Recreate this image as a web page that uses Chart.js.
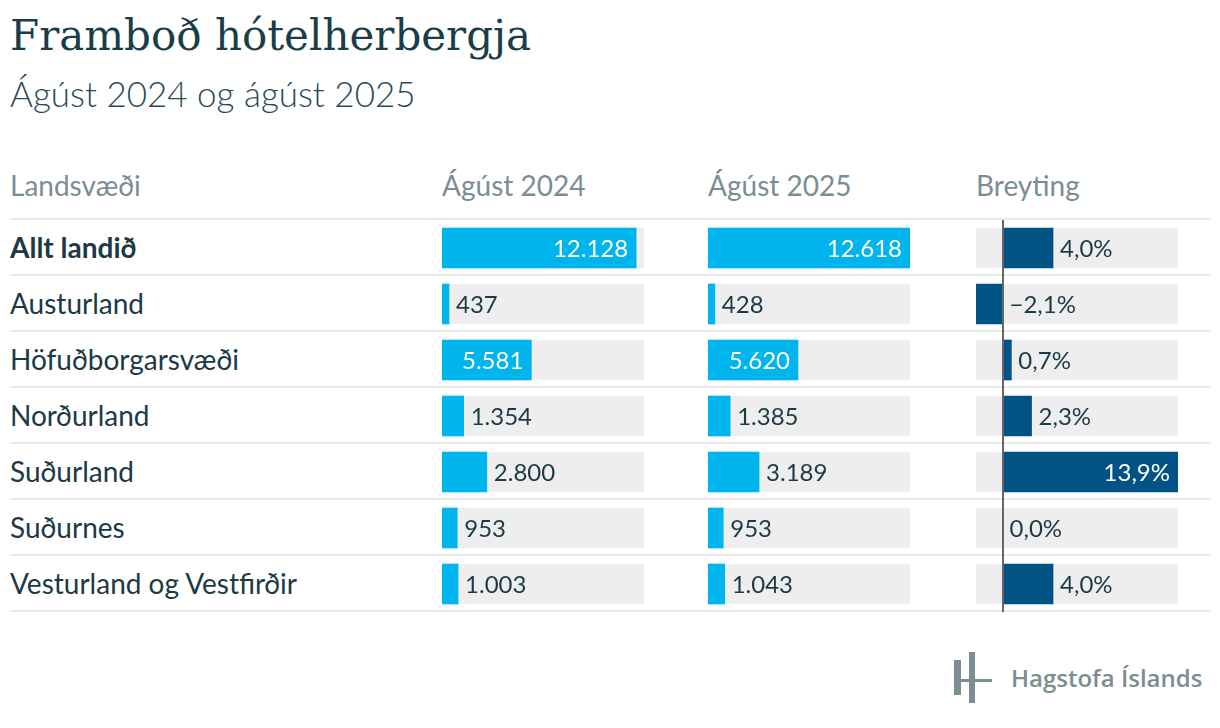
<!DOCTYPE html>
<html lang="is">
<head>
<meta charset="utf-8">
<script src="https://cdn.jsdelivr.net/npm/chart.js@4/dist/chart.umd.min.js"></script>
<style>
  html, body { margin: 0; padding: 0; background: #fff; }
  body { width: 1220px; height: 728px; position: relative; overflow: hidden; font-family: Lato, sans-serif; color: #1b3a45; }
  .abs { position: absolute; }
  #title { left: 10px; top: 11px; font-family: "DejaVu Serif", serif; font-size: 42px; color: #193e4a; white-space: nowrap; }
  #subtitle { left: 10px; top: 72px; font-size: 35px; font-weight: 300; color: #2a4a55; white-space: nowrap; }
  .head { top: 168px; font-size: 28px; color: #7b8d94; white-space: nowrap; }
  .rule { left: 10px; width: 1200px; height: 2px; background: #e9e9e9; }
  .name { left: 10px; height: 54px; display: flex; align-items: center; font-size: 28px; white-space: nowrap; }
  canvas { position: absolute; }
  #logoText { left: 1011px; top: 661px; font-family: "Open Sans", sans-serif; font-weight: 600; font-size: 24px; color: #7a8e94; white-space: nowrap; }
  .lg { background: #7a8e94; }
</style>
</head>
<body>
<div id="title" class="abs">Framboð hótelherbergja</div>
<div id="subtitle" class="abs">Ágúst 2024 og ágúst 2025</div>

<div class="abs head" style="left:10px">Landsvæði</div>
<div class="abs head" style="left:442px">Ágúst 2024</div>
<div class="abs head" style="left:708px">Ágúst 2025</div>
<div class="abs head" style="left:976px">Breyting</div>

<div id="rows"></div>

<canvas id="c2024" width="202" height="392" style="left:442px; top:220px"></canvas>
<canvas id="c2025" width="202" height="392" style="left:708px; top:220px"></canvas>
<canvas id="cChange" width="202" height="392" style="left:976px; top:220px"></canvas>

<!-- Hagstofa logo -->
<div class="abs lg" style="left:954px; top:660px; width:7px; height:35px"></div>
<div class="abs lg" style="left:969px; top:652px; width:6px; height:51px"></div>
<div class="abs lg" style="left:954px; top:679px; width:38px; height:3px"></div>
<div id="logoText" class="abs">Hagstofa Íslands</div>

<script>
// data
const regions = ['Allt landið', 'Austurland', 'Höfuðborgarsvæði', 'Norðurland', 'Suðurland', 'Suðurnes', 'Vesturland og Vestfirðir'];
const aug2024 = [12128, 437, 5581, 1354, 2800, 953, 1003];
const aug2025 = [12618, 428, 5620, 1385, 3189, 953, 1043];
const change = [4.0, -2.1, 0.7, 2.3, 13.9, 0.0, 4.0];

const ROW_H = 56;
const TOP = 220;

// row names and separator lines
const rowsEl = document.getElementById('rows');
for (let i = 0; i <= regions.length; i++) {
  const r = document.createElement('div');
  r.className = 'abs rule';
  r.style.top = (TOP - 2 + i * ROW_H) + 'px';
  rowsEl.appendChild(r);
}
regions.forEach((name, i) => {
  const d = document.createElement('div');
  d.className = 'abs name';
  d.style.top = (TOP + i * ROW_H) + 'px';
  d.textContent = name;
  if (i === 0) d.style.fontWeight = '700';
  rowsEl.appendChild(d);
});

function fmtNumber(v) {
  return v.toString().replace(/\B(?=(\d{3})+(?!\d))/g, '.');
}
function fmtPercent(v) {
  return v.toFixed(1).replace('.', ',').replace('-', '\u2212') + '%';
}

// draws the value label next to / inside each bar, and the zero line
const valueLabels = {
  id: 'valueLabels',
  afterDatasetsDraw(chart, args, opts) {
    const ctx = chart.ctx;
    const meta = chart.getDatasetMeta(1);
    const values = chart.data.datasets[1].data;
    const zero = chart.scales.x.getPixelForValue(0);
    ctx.save();
    ctx.font = '24px Lato';
    ctx.textBaseline = 'middle';
    meta.data.forEach((bar, i) => {
      const v = values[i];
      const txt = opts.format(v);
      const w = ctx.measureText(txt).width;
      const barW = Math.abs(bar.x - bar.base);
      if (v > 0 && barW >= w + 16) {
        ctx.fillStyle = '#ffffff';
        ctx.textAlign = 'right';
        ctx.fillText(txt, bar.x - 8, bar.y + 1);
      } else {
        ctx.fillStyle = '#1b3a45';
        ctx.textAlign = 'left';
        ctx.fillText(txt, Math.max(bar.x, zero) + 7, bar.y + 1);
      }
    });
    if (opts.zeroLine) {
      ctx.fillStyle = '#666666';
      ctx.fillRect(Math.round(zero) - 1, 0, 2, chart.height);
    }
    ctx.restore();
  }
};

function makeChart(id, values, bg, color, min, max, format, zeroLine) {
  return new Chart(document.getElementById(id), {
    type: 'bar',
    data: {
      labels: regions,
      datasets: [
        { data: bg, backgroundColor: '#eeeeee', grouped: false, order: 2, barThickness: 40 },
        { data: values, backgroundColor: color, grouped: false, order: 1, barThickness: 40 }
      ]
    },
    options: {
      indexAxis: 'y',
      responsive: false,
      animation: false,
      events: [],
      layout: { padding: 0 },
      plugins: {
        legend: { display: false },
        tooltip: { enabled: false },
        valueLabels: { format: format, zeroLine: zeroLine }
      },
      scales: {
        x: { display: false, min: min, max: max },
        y: { display: false }
      }
    },
    plugins: [valueLabels]
  });
}

document.fonts.ready.then(() => {
  const maxRooms = Math.max(...aug2024, ...aug2025);
  const fullBg = regions.map(() => maxRooms);
  makeChart('c2024', aug2024, fullBg, '#00b4ee', 0, maxRooms, fmtNumber, false);
  makeChart('c2025', aug2025, fullBg, '#00b4ee', 0, maxRooms, fmtNumber, false);

  const minCh = Math.min(...change), maxCh = Math.max(...change);
  const changeBg = regions.map(() => [minCh, maxCh]);
  makeChart('cChange', change, changeBg, '#005384', minCh, maxCh, fmtPercent, true);
});
</script>
</body>
</html>
